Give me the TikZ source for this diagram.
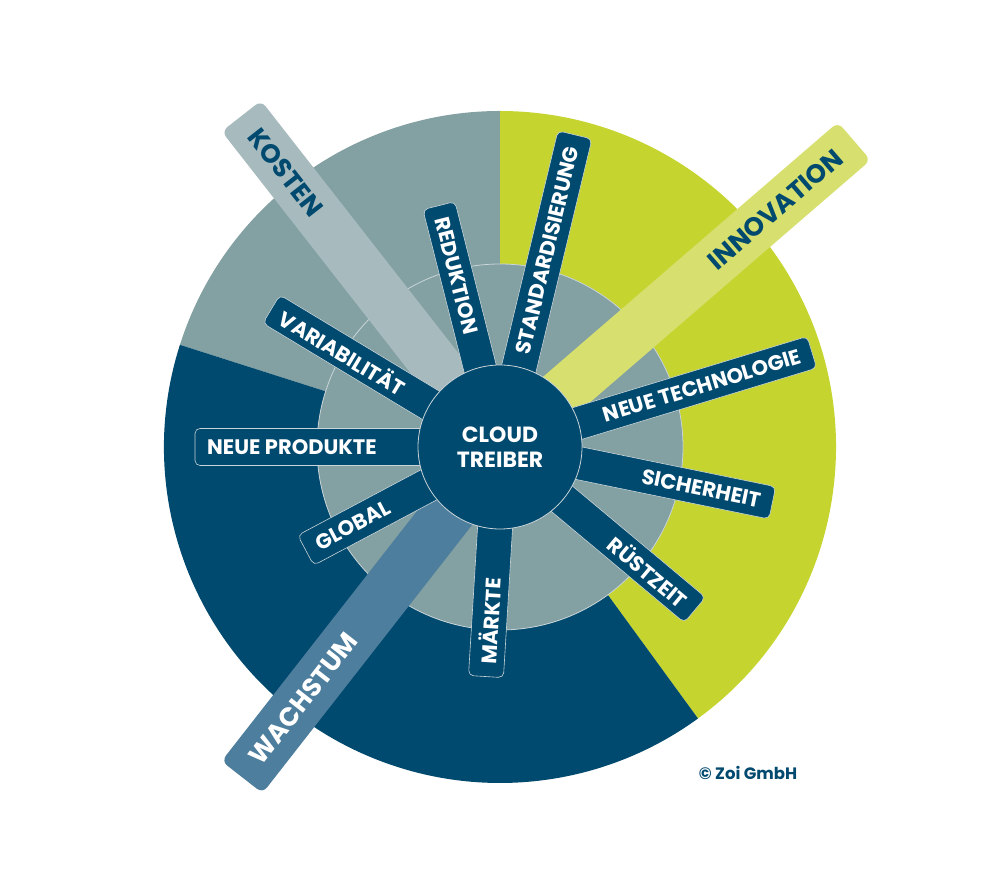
\documentclass[tikz,border=0pt]{standalone}
\usepackage{fontspec}
\setmainfont{Poppins}
\definecolor{dblue}{HTML}{00496F}
\definecolor{cgray}{HTML}{83A0A2}
\definecolor{cgreen}{HTML}{C5D42F}
\definecolor{lgreen}{HTML}{D7E06E}
\definecolor{lgray}{HTML}{A7BABD}
\definecolor{mblue}{HTML}{4E7E9D}
\definecolor{rimcol}{HTML}{C9D5D8}
\tikzset{
  spokebar/.style={shape=rectangle, draw=rimcol, line width=0.6pt, fill=dblue, rounded corners=5pt, inner sep=0pt, outer sep=0pt},
  spoketext/.style={text=white, font=\bfseries\fontsize{21}{21}\selectfont, inner sep=0pt},
  catbar/.style={shape=rectangle, rounded corners=7pt, inner sep=0pt, outer sep=0pt},
  cattext/.style={font=\bfseries\fontsize{26}{26}\selectfont, inner sep=0pt},
}
% #1 name, #2 angle, #3 outer length, #4 width, #5 text, #6 side (east/west), #7 text rotation
\newcommand\drvspoke[7]{%
  \path (C) ++(#2:{(#3+50)/2}) node[spokebar, rotate=#2, minimum width={(#3-50)*1pt}, minimum height=#4pt] (#1) {};
  \path (C) ++(#2:{#3-12}) node[spoketext, rotate=#7, anchor=#6] (#1-t) {#5};
}
\newcommand\drvcat[9]{%
  \path (C) ++(#2:{#3/2}) node[catbar, fill=#5, rotate=#2, minimum width=#3pt, minimum height=#4pt] (#1) {};
  \path (C) ++(#2:{#3-20}) node[cattext, text=#6, rotate=#8, anchor=#7] (#1-t) {#9};
}
\begin{document}
\begin{tikzpicture}[x=1pt,y=1pt]
\useasboundingbox[fill=white] (0,0) rectangle (1000,894);
\coordinate (C) at (500,447);
% outer sectors
\fill[cgray] (C) -- ++(90:336) arc[start angle=90, end angle=162.3, radius=336pt] -- cycle;
\fill[cgreen] (C) -- ++(-53.9:336) arc[start angle=-53.9, end angle=90, radius=336pt] -- cycle;
\fill[dblue] (C) -- ++(162.3:336) arc[start angle=162.3, end angle=306.1, radius=336pt] -- cycle;
% middle ring
\node[circle, fill=cgray, draw=rimcol, line width=0.8pt, minimum size=366pt, inner sep=0pt] (ring) at (C) {};
% category bars
\drvcat{kos}{128}{420}{50}{lgray}{dblue}{west}{-52}{KOSTEN}
\drvcat{inn}{40.8}{468}{50}{lgreen}{dblue}{east}{40.8}{INNOVATION}
\drvcat{wac}{232}{419}{52}{mblue}{white}{west}{52}{WACHSTUM}
% spokes
\drvspoke{red}{104.2}{249}{33}{REDUKTION}{west}{-75.8}
\drvspoke{std}{76.5}{321}{35}{STANDARDISIERUNG}{east}{76.5}
\drvspoke{neu}{16.9}{326}{33}{NEUE TECHNOLOGIE}{east}{16.9}
\drvspoke{sic}{-11.6}{278}{33}{SICHERHEIT}{east}{-11.6}
\drvspoke{rus}{-39.9}{254}{33}{RÜSTZEIT}{east}{-39.9}
\drvspoke{mar}{266.5}{230}{35}{MÄRKTE}{west}{86.5}
\drvspoke{glo}{208}{220}{34}{GLOBAL}{west}{28}
\drvspoke{pro}{180}{305}{37}{NEUE PRODUKTE}{west}{0}
\drvspoke{var}{148.9}{267}{33}{VARIABILITÄT}{west}{-31.1}
% core
\node[circle, fill=dblue, draw=rimcol, line width=0.8pt, minimum size=164pt, inner sep=0pt,
      text=white, font=\bfseries\fontsize{22}{25}\selectfont, align=center] (core) at (C) {CLOUD\\TREIBER};
\node[text=dblue, font=\bfseries\fontsize{16.5}{16.5}\selectfont, inner sep=0pt] (copy) at (748,121) {© Zoi GmbH};
\end{tikzpicture}
\end{document}
